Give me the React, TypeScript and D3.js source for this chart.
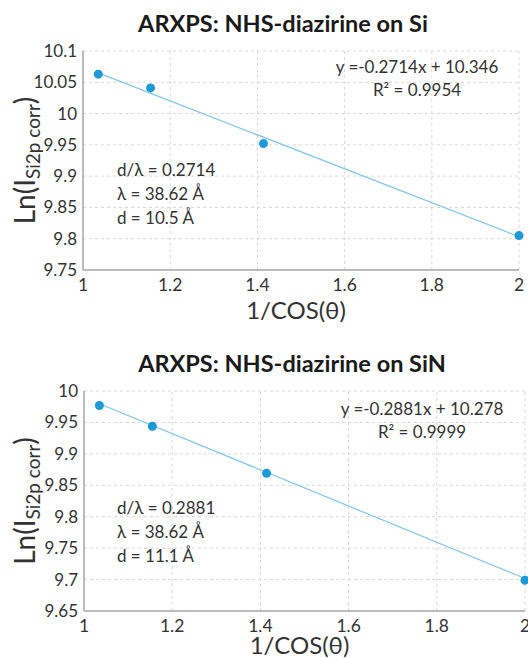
import * as d3 from "d3";

// 1/cos(theta) for 15, 30, 45, 60 degrees
const invCos = [1.035, 1.155, 1.414, 2.0];
const xTicks = [1, 1.2, 1.4, 1.6, 1.8, 2];

const siValues = [10.063, 10.041, 9.952, 9.805];
const siTicks = [9.75, 9.8, 9.85, 9.9, 9.95, 10, 10.05, 10.1];
const siFit = { slope: -0.2714, intercept: 10.346 };
const siNotes = ["d/λ = 0.2714", "λ = 38.62 Å", "d = 10.5 Å"];
const siEq = ["y =-0.2714x + 10.346", "R² = 0.9954"];

const sinValues = [9.977, 9.944, 9.869, 9.699];
const sinTicks = [9.65, 9.7, 9.75, 9.8, 9.85, 9.9, 9.95, 10];
const sinFit = { slope: -0.2881, intercept: 10.278 };
const sinNotes = ["d/λ = 0.2881", "λ = 38.62 Å", "d = 11.1 Å"];
const sinEq = ["y =-0.2881x + 10.278", "R² = 0.9999"];

const FONT = "Lato, 'Noto Sans', sans-serif";
const POINT = "#1b9ad6";
const TREND = "#7cc8ec";
const GRID = "#d9d9d9";
const AXIS = "#a6a6a6";
const TEXT = "#333333";

type PanelProps = {
  title: string;
  titleX: number;
  titleY: number;
  values: number[];
  yTicks: number[];
  fit: { slope: number; intercept: number };
  notes: string[];
  eq: string[];
  eqX: number;
  eqY: number;
  notesY: number;
  xTitleGap: number;
  xRange: [number, number];
  yRange: [number, number];
};

function Panel(p: PanelProps) {
  const x = d3.scaleLinear().domain([1, 2]).range(p.xRange);
  const y = d3
    .scaleLinear()
    .domain([p.yTicks[0], p.yTicks[p.yTicks.length - 1]])
    .range(p.yRange);
  const [x0, x1] = p.xRange;
  const [yb, yt] = p.yRange;
  const pts = invCos.map((v, i) => [v, p.values[i]] as [number, number]);
  const xs = d3.extent(invCos) as [number, number];
  const trend = d3
    .line<number>()
    .x((d) => x(d))
    .y((d) => y(p.fit.slope * d + p.fit.intercept))(xs);
  const midY = (yb + yt) / 2;

  return (
    <g fontFamily={FONT}>
      <text x={p.titleX} y={p.titleY} textAnchor="middle" fontSize={23.5} fontWeight={700} fill="#1a1a1a">
        {p.title}
      </text>
      {/* grid */}
      {p.yTicks.slice(1).map((t) => (
        <line key={"gy" + t} x1={x0} x2={x1} y1={y(t)} y2={y(t)} stroke={GRID} strokeDasharray="3,3" />
      ))}
      {xTicks.slice(1).map((t) => (
        <line key={"gx" + t} x1={x(t)} x2={x(t)} y1={yb} y2={yt} stroke={GRID} strokeDasharray="3,3" />
      ))}
      {/* axes */}
      <line x1={x0} x2={x0} y1={yb} y2={yt} stroke={AXIS} strokeWidth={1.5} />
      <line x1={x0} x2={x1} y1={yb} y2={yb} stroke={AXIS} strokeWidth={1.5} />
      {p.yTicks.map((t) => (
        <text key={"ty" + t} x={x0 - 6} y={y(t)} dy="0.35em" textAnchor="end" fontSize={17} fill={TEXT}>
          {String(t)}
        </text>
      ))}
      {xTicks.map((t) => (
        <text key={"tx" + t} x={x(t)} y={yb + 21} textAnchor="middle" fontSize={17.5} fill={TEXT}>
          {String(t)}
        </text>
      ))}
      <text x={(x0 + x1) / 2 - 5} y={yb + p.xTitleGap} textAnchor="middle" fontSize={24} fill={TEXT}>
        1/COS(θ)
      </text>
      <text transform={`translate(35,${midY}) rotate(-90)`} textAnchor="middle" fontSize={28} fill={TEXT}>
        Ln(I
        <tspan fontSize={19} dy={5}>
          Si2p corr
        </tspan>
        <tspan dy={-5}>)</tspan>
      </text>
      {/* trendline and points */}
      <path d={trend ?? ""} fill="none" stroke={TREND} strokeWidth={1.2} />
      {pts.map(([a, b], i) => (
        <circle key={i} cx={x(a)} cy={y(b)} r={4.5} fill={POINT} />
      ))}
      {p.eq.map((s, i) => (
        <text key={"eq" + i} x={p.eqX} y={p.eqY + i * 22.5} textAnchor="middle" fontSize={17} fill={TEXT}>
          {s}
        </text>
      ))}
      {p.notes.map((s, i) => (
        <text key={"n" + i} x={117} y={p.notesY + i * 23.8} fontSize={17} fill={TEXT}>
          {s}
        </text>
      ))}
    </g>
  );
}

export default function App() {
  return (
    <svg
      width={528}
      height={658}
      style={{ position: "absolute", left: 0, top: 0, display: "block", background: "#fff" }}
    >
      <Panel
        title="ARXPS: NHS-diazirine on Si"
        titleX={283}
        titleY={32}
        values={siValues}
        yTicks={siTicks}
        fit={siFit}
        notes={siNotes}
        eq={siEq}
        eqX={417}
        eqY={73}
        notesY={176}
        xTitleGap={49}
        xRange={[83, 519]}
        yRange={[270, 51]}
      />
      <Panel
        title="ARXPS: NHS-diazirine on SiN"
        titleX={292}
        titleY={372}
        values={sinValues}
        yTicks={sinTicks}
        fit={sinFit}
        notes={sinNotes}
        eq={sinEq}
        eqX={422}
        eqY={415}
        notesY={514}
        xTitleGap={42.5}
        xRange={[84, 525]}
        yRange={[611, 391]}
      />
    </svg>
  );
}
